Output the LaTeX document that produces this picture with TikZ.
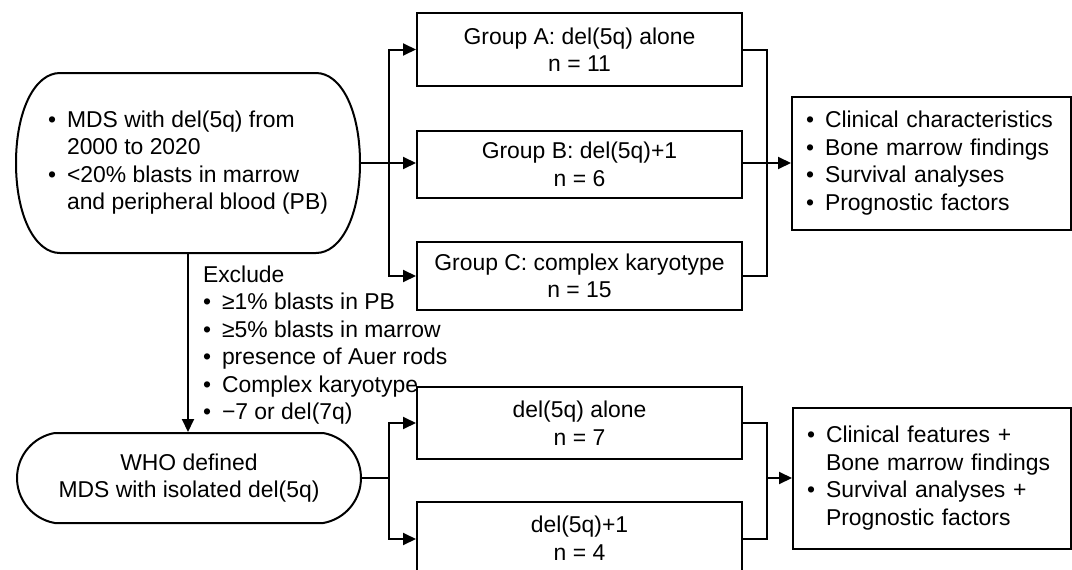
\documentclass[tikz,border=0pt]{standalone}
\usepackage{fontspec}
\setmainfont{Liberation Sans}
\usetikzlibrary{shapes.misc,arrows.meta}
\newcommand{\bl}{\textbullet}
\begin{document}
\begin{tikzpicture}[x=1pt,y=-1pt,
  every node/.style={font=\fontsize{22.9}{27.5}\selectfont},
  line width=2pt,
  arr/.style={-{Triangle[length=13pt,width=12pt]}},
  conn/.style={line width=2pt},
  grp/.style={draw,line width=2pt,minimum width=325pt,inner sep=0pt,align=center},
  pill/.style={draw,line width=2pt,rounded rectangle,minimum width=344pt,inner sep=0pt},
  res/.style={draw,line width=2pt,anchor=west,inner xsep=14pt,inner ysep=0pt,align=left}
]
\useasboundingbox (0,0) rectangle (1072,570);
\clip (0,0) rectangle (1072,570);

\node[minimum width=344pt,minimum height=180pt,inner sep=0pt] (top) at (188,163)
  {\begin{tabular}{@{}l@{\hspace{11pt}}l@{}}
   \bl & MDS with del(5q) from\\
       & 2000 to 2020\\
   \bl & <20\% blasts in marrow\\
       & and peripheral blood (PB)
   \end{tabular}};
\draw[line width=2pt] (60,73) -- (316,73)
  .. controls (341,73) and (360,110) .. (360,163)
  .. controls (360,216) and (341,253) .. (316,253) -- (60,253)
  .. controls (35,253) and (16,216) .. (16,163)
  .. controls (16,110) and (35,73) .. (60,73) -- cycle;

\node[pill,minimum height=90pt,rounded rectangle arc length=160,align=center] (who) at (189,478)
  {WHO defined\\MDS with isolated del(5q)};

\node[grp,minimum height=73pt] (ga) at (579.5,49.5) {Group A: del(5q) alone\\n = 11};
\node[grp,minimum height=67pt] (gb) at (579.5,164.5) {Group B: del(5q)+1\\n = 6};
\node[grp,minimum height=68pt] (gc) at (579.5,276) {Group C: complex karyotype\\n = 15};

\node[grp,minimum height=72pt] (la) at (579.5,423) {del(5q) alone\\n = 7};
\node[grp,minimum height=72pt] (lb) at (579.5,538) {del(5q)+1\\n = 4};

\node[res,minimum height=133pt,text width=251pt] (r1) at (791,163.5)
  {\begin{tabular}{@{}l@{\hspace{11pt}}l@{}}
   \bl & Clinical characteristics\\
   \bl & Bone marrow findings\\
   \bl & Survival analyses\\
   \bl & Prognostic factors
   \end{tabular}};

\node[res,minimum height=141pt,text width=250pt] (r2) at (792,478.5)
  {\begin{tabular}{@{}l@{\hspace{11pt}}l@{}}
   \bl & Clinical features +\\
       & Bone marrow findings\\
   \bl & Survival analyses +\\
       & Prognostic factors
   \end{tabular}};

\node[anchor=base west,inner sep=0pt] (excl) at (202,282)
  {\begin{tabular}[t]{@{}l@{\hspace{11pt}}l@{}}
   \multicolumn{2}{@{}l@{}}{Exclude}\\
   \bl & ≥1\% blasts in PB\\
   \bl & ≥5\% blasts in marrow\\
   \bl & presence of Auer rods\\
   \bl & Complex karyotype\\
   \bl & −7 or del(7q)
   \end{tabular}};

\coordinate (j1) at (389,163);
\coordinate (j2) at (767,163);
\coordinate (j3) at (389,478);
\coordinate (j4) at (767,478);

\draw[conn,arr] (top.east) -- (top.east -| gb.west);
\draw[conn,arr] (j1) |- (ga.west);
\draw[conn,arr] (j1) |- (gc.west);
\draw[conn] (ga.east) -| (j2);
\draw[conn] (gc.east) -| (j2);
\draw[conn] (gb.east |- j2) -- (j2);
\draw[conn,arr] (j2) -- (j2 -| r1.west);

\draw[conn,arr] (top.south) -- (top.south |- who.north);

\draw[conn] (who.east) -- (who.east -| j3);
\draw[conn,arr] (j3) |- (la.west);
\draw[conn,arr] (j3) |- ([yshift=-1pt]lb.west);
\draw[conn] (la.east) -| (j4);
\draw[conn] ([yshift=-1pt]lb.east) -| (j4);
\draw[conn,arr] (j4) -- (j4 -| r2.west);
\end{tikzpicture}
\end{document}
